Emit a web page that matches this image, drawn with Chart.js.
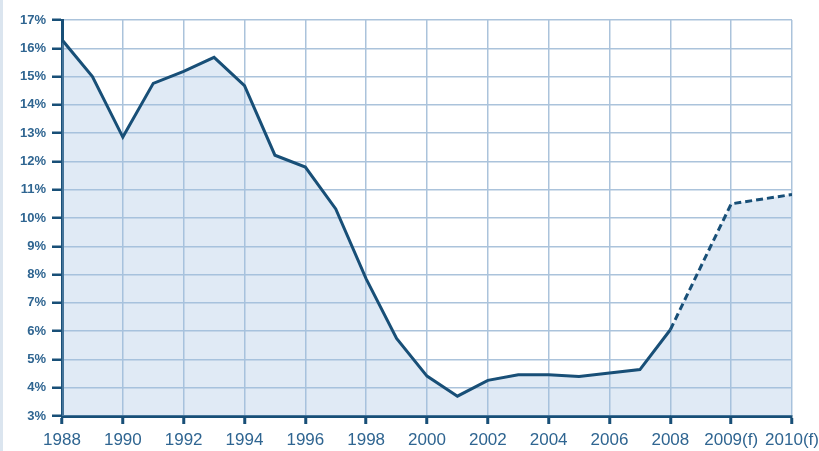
<!DOCTYPE html>
<html>
<head>
<meta charset="utf-8">
<script src="https://cdn.jsdelivr.net/npm/chart.js@4/dist/chart.umd.min.js"></script>
<style>
html,body{margin:0;padding:0;background:#fff;}
body::before{content:'';position:fixed;left:0;top:0;bottom:0;width:3px;background:#dbe5ef;}
#wrap{position:relative;width:819px;height:451px;}
</style>
</head>
<body>
<div id="wrap"><canvas id="rate"></canvas></div>
<script>
// yearly rate, last two years are forecasts
const years = ['1988','1989','1990','1991','1992','1993','1994','1995','1996','1997','1998','1999',
'2000','2001','2002','2003','2004','2005','2006','2007','2008','2009(f)','2010(f)'];
const rates = [16.3,15.0,12.86,14.76,15.18,15.68,14.68,12.22,11.8,10.32,7.85,5.74,
4.41,3.7,4.26,4.46,4.46,4.4,4.52,4.64,6.05,10.5,10.83];
const xTickLabels = ['1988','1990','1992','1994','1996','1998','2000','2002','2004','2006','2008','2009(f)','2010(f)'];
const yTicks = [3,4,5,6,7,8,9,10,11,12,13,14,15,16,17];

// axis runs in 2-year steps up to 2008, then 1-year steps for the forecasts
function yearPos(label){
const y = parseInt(label, 10);
return y <= 2008 ? (y - 1988) / 2 : y - 1998;
}

const points = years.map((yr, i) => ({ x: yearPos(yr), y: rates[i] }));
const dark = '#184f77';
const gridC = '#abc3db';
const labelC = '#2f6591';

new Chart(document.getElementById('rate'), {
type: 'line',
data: {
datasets: [{
data: points,
borderColor: dark,
borderWidth: 3,
pointRadius: 0,
tension: 0,
fill: 'start',
backgroundColor: 'rgba(160,190,225,0.33)',
segment: {
borderDash: ctx => ctx.p0.parsed.x >= 10 ? [7, 4] : undefined
}
}]
},
options: {
responsive: true,
maintainAspectRatio: false,
animation: false,
layout: { padding: { top: 20, right: 27, left: 0, bottom: 0 } },
plugins: { legend: { display: false }, tooltip: { enabled: false } },
scales: {
x: {
type: 'linear',
min: 0, max: 12,
afterFit: s => { s.height = 35; s.paddingLeft = 0; s.paddingRight = 0; },
afterBuildTicks: s => { s.ticks = xTickLabels.map((_, i) => ({ value: i })); },
ticks: {
autoSkip: false, maxRotation: 0, padding: 6,
color: labelC,
font: { family: 'Liberation Sans', size: 17 },
callback: v => xTickLabels[v]
},
grid: { color: gridC, lineWidth: 1.5, tickLength: 8, tickColor: dark, tickWidth: 3 },
border: { color: dark, width: 3 }
},
y: {
min: 3, max: 17,
afterFit: s => { s.width = 62; },
afterBuildTicks: s => { s.ticks = yTicks.map(v => ({ value: v })); },
ticks: {
padding: 6,
color: labelC,
font: { family: 'Liberation Sans', size: 13, weight: 'bold' },
callback: v => v + '%'
},
grid: { color: gridC, lineWidth: 1.5, tickLength: 10, tickColor: dark, tickWidth: 2.5 },
border: { color: dark, width: 3 }
}
}
}
});
</script>
</body>
</html>
